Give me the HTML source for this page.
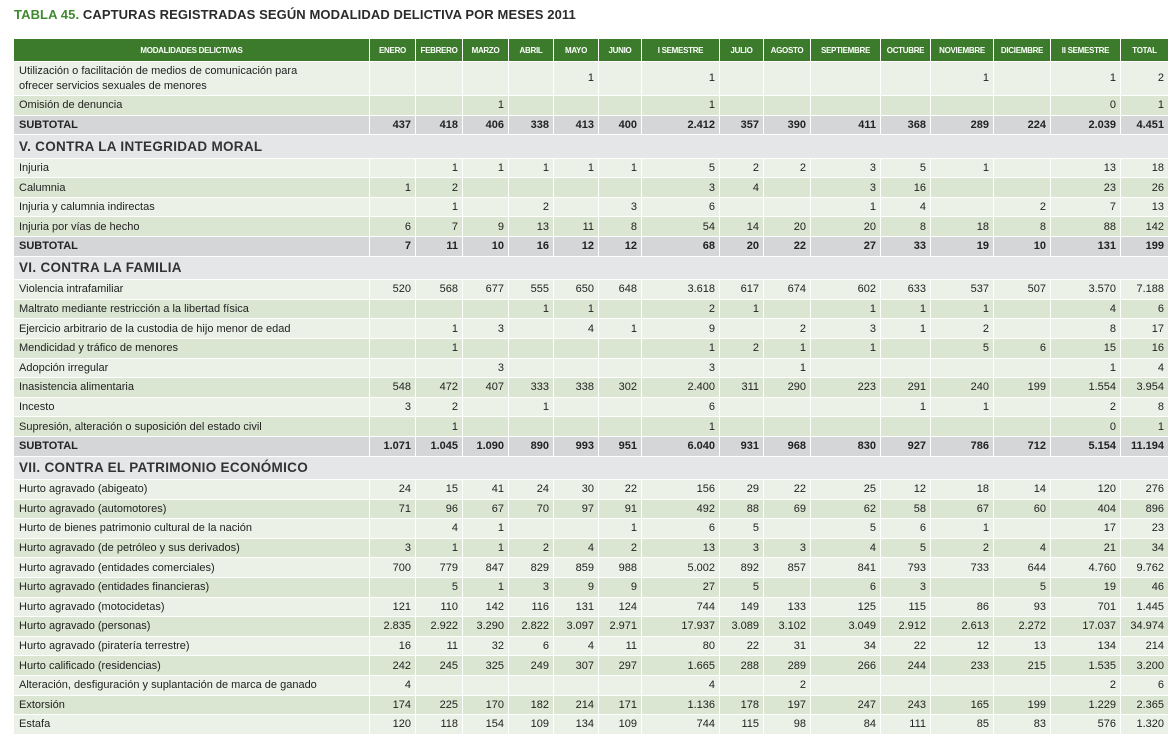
<!DOCTYPE html>
<html><head><meta charset="utf-8">
<style>
body{margin:0;background:#fff;width:1175px;height:742px;overflow:hidden;font-family:"Liberation Sans",sans-serif;}
.title{position:absolute;left:14px;top:7px;font-size:13px;font-weight:bold;letter-spacing:0.1px;color:#2b2b2b;white-space:nowrap}
.title span{color:#3f8a2f}
table{position:absolute;left:13px;top:38px;width:1155px;border-collapse:collapse;table-layout:fixed;font-size:11px;color:#222}
td,th{border:1px solid #fff;padding:0 4px;white-space:nowrap;overflow:hidden;text-align:right}
th{background:#3b7b2b;color:#fff;font-size:8px;font-weight:bold;text-align:center;height:22px;padding:0;letter-spacing:-0.3px}
td:first-child{text-align:left;padding-left:5px}
tr{height:19.6px}
tr.a td{background:#ebf1e6}
tr.b td{background:#dae5d2}
tr.s td{background:#d5d6d8;font-weight:bold}
tr.h{height:23.5px}
tr.h td{background:#e5e6e8;font-size:13.5px;font-weight:bold;color:#333;letter-spacing:0.3px}
tr.r1{height:34px}
tr.r1 td{line-height:15px}
</style></head><body>
<div class="title"><span>TABLA 45.</span> CAPTURAS REGISTRADAS SEGÚN MODALIDAD DELICTIVA POR MESES 2011</div>
<table>
<colgroup><col style="width:356px"><col style="width:46px"><col style="width:47px"><col style="width:46px"><col style="width:45px"><col style="width:45px"><col style="width:43px"><col style="width:78px"><col style="width:44px"><col style="width:47px"><col style="width:70px"><col style="width:50px"><col style="width:63px"><col style="width:57px"><col style="width:70px"><col style="width:48px"></colgroup>
<tr><th>MODALIDADES DELICTIVAS</th><th>ENERO</th><th>FEBRERO</th><th>MARZO</th><th>ABRIL</th><th>MAYO</th><th>JUNIO</th><th>I SEMESTRE</th><th>JULIO</th><th>AGOSTO</th><th>SEPTIEMBRE</th><th>OCTUBRE</th><th>NOVIEMBRE</th><th>DICIEMBRE</th><th>II SEMESTRE</th><th>TOTAL</th></tr>
<tr class="a r1"><td>Utilización o facilitación de medios de comunicación para<br>ofrecer servicios sexuales de menores</td><td></td><td></td><td></td><td></td><td>1</td><td></td><td>1</td><td></td><td></td><td></td><td></td><td>1</td><td></td><td>1</td><td>2</td></tr>
<tr class="b"><td>Omisión de denuncia</td><td></td><td></td><td>1</td><td></td><td></td><td></td><td>1</td><td></td><td></td><td></td><td></td><td></td><td></td><td>0</td><td>1</td></tr>
<tr class="s"><td>SUBTOTAL</td><td>437</td><td>418</td><td>406</td><td>338</td><td>413</td><td>400</td><td>2.412</td><td>357</td><td>390</td><td>411</td><td>368</td><td>289</td><td>224</td><td>2.039</td><td>4.451</td></tr>
<tr class="h"><td colspan="16">V. CONTRA LA INTEGRIDAD MORAL</td></tr>
<tr class="a"><td>Injuria</td><td></td><td>1</td><td>1</td><td>1</td><td>1</td><td>1</td><td>5</td><td>2</td><td>2</td><td>3</td><td>5</td><td>1</td><td></td><td>13</td><td>18</td></tr>
<tr class="b"><td>Calumnia</td><td>1</td><td>2</td><td></td><td></td><td></td><td></td><td>3</td><td>4</td><td></td><td>3</td><td>16</td><td></td><td></td><td>23</td><td>26</td></tr>
<tr class="a"><td>Injuria y calumnia indirectas</td><td></td><td>1</td><td></td><td>2</td><td></td><td>3</td><td>6</td><td></td><td></td><td>1</td><td>4</td><td></td><td>2</td><td>7</td><td>13</td></tr>
<tr class="b"><td>Injuria por vías de hecho</td><td>6</td><td>7</td><td>9</td><td>13</td><td>11</td><td>8</td><td>54</td><td>14</td><td>20</td><td>20</td><td>8</td><td>18</td><td>8</td><td>88</td><td>142</td></tr>
<tr class="s"><td>SUBTOTAL</td><td>7</td><td>11</td><td>10</td><td>16</td><td>12</td><td>12</td><td>68</td><td>20</td><td>22</td><td>27</td><td>33</td><td>19</td><td>10</td><td>131</td><td>199</td></tr>
<tr class="h"><td colspan="16">VI. CONTRA LA FAMILIA</td></tr>
<tr class="a"><td>Violencia intrafamiliar</td><td>520</td><td>568</td><td>677</td><td>555</td><td>650</td><td>648</td><td>3.618</td><td>617</td><td>674</td><td>602</td><td>633</td><td>537</td><td>507</td><td>3.570</td><td>7.188</td></tr>
<tr class="b"><td>Maltrato mediante restricción a la libertad física</td><td></td><td></td><td></td><td>1</td><td>1</td><td></td><td>2</td><td>1</td><td></td><td>1</td><td>1</td><td>1</td><td></td><td>4</td><td>6</td></tr>
<tr class="a"><td>Ejercicio arbitrario de la custodia de hijo menor de edad</td><td></td><td>1</td><td>3</td><td></td><td>4</td><td>1</td><td>9</td><td></td><td>2</td><td>3</td><td>1</td><td>2</td><td></td><td>8</td><td>17</td></tr>
<tr class="b"><td>Mendicidad y tráfico de menores</td><td></td><td>1</td><td></td><td></td><td></td><td></td><td>1</td><td>2</td><td>1</td><td>1</td><td></td><td>5</td><td>6</td><td>15</td><td>16</td></tr>
<tr class="a"><td>Adopción irregular</td><td></td><td></td><td>3</td><td></td><td></td><td></td><td>3</td><td></td><td>1</td><td></td><td></td><td></td><td></td><td>1</td><td>4</td></tr>
<tr class="b"><td>Inasistencia alimentaria</td><td>548</td><td>472</td><td>407</td><td>333</td><td>338</td><td>302</td><td>2.400</td><td>311</td><td>290</td><td>223</td><td>291</td><td>240</td><td>199</td><td>1.554</td><td>3.954</td></tr>
<tr class="a"><td>Incesto</td><td>3</td><td>2</td><td></td><td>1</td><td></td><td></td><td>6</td><td></td><td></td><td></td><td>1</td><td>1</td><td></td><td>2</td><td>8</td></tr>
<tr class="b"><td>Supresión, alteración o suposición del estado civil</td><td></td><td>1</td><td></td><td></td><td></td><td></td><td>1</td><td></td><td></td><td></td><td></td><td></td><td></td><td>0</td><td>1</td></tr>
<tr class="s"><td>SUBTOTAL</td><td>1.071</td><td>1.045</td><td>1.090</td><td>890</td><td>993</td><td>951</td><td>6.040</td><td>931</td><td>968</td><td>830</td><td>927</td><td>786</td><td>712</td><td>5.154</td><td>11.194</td></tr>
<tr class="h"><td colspan="16">VII. CONTRA EL PATRIMONIO ECONÓMICO</td></tr>
<tr class="a"><td>Hurto agravado (abigeato)</td><td>24</td><td>15</td><td>41</td><td>24</td><td>30</td><td>22</td><td>156</td><td>29</td><td>22</td><td>25</td><td>12</td><td>18</td><td>14</td><td>120</td><td>276</td></tr>
<tr class="b"><td>Hurto agravado (automotores)</td><td>71</td><td>96</td><td>67</td><td>70</td><td>97</td><td>91</td><td>492</td><td>88</td><td>69</td><td>62</td><td>58</td><td>67</td><td>60</td><td>404</td><td>896</td></tr>
<tr class="a"><td>Hurto de bienes patrimonio cultural de la nación</td><td></td><td>4</td><td>1</td><td></td><td></td><td>1</td><td>6</td><td>5</td><td></td><td>5</td><td>6</td><td>1</td><td></td><td>17</td><td>23</td></tr>
<tr class="b"><td>Hurto agravado (de petróleo y sus derivados)</td><td>3</td><td>1</td><td>1</td><td>2</td><td>4</td><td>2</td><td>13</td><td>3</td><td>3</td><td>4</td><td>5</td><td>2</td><td>4</td><td>21</td><td>34</td></tr>
<tr class="a"><td>Hurto agravado (entidades comerciales)</td><td>700</td><td>779</td><td>847</td><td>829</td><td>859</td><td>988</td><td>5.002</td><td>892</td><td>857</td><td>841</td><td>793</td><td>733</td><td>644</td><td>4.760</td><td>9.762</td></tr>
<tr class="b"><td>Hurto agravado (entidades financieras)</td><td></td><td>5</td><td>1</td><td>3</td><td>9</td><td>9</td><td>27</td><td>5</td><td></td><td>6</td><td>3</td><td></td><td>5</td><td>19</td><td>46</td></tr>
<tr class="a"><td>Hurto agravado (motocidetas)</td><td>121</td><td>110</td><td>142</td><td>116</td><td>131</td><td>124</td><td>744</td><td>149</td><td>133</td><td>125</td><td>115</td><td>86</td><td>93</td><td>701</td><td>1.445</td></tr>
<tr class="b"><td>Hurto agravado (personas)</td><td>2.835</td><td>2.922</td><td>3.290</td><td>2.822</td><td>3.097</td><td>2.971</td><td>17.937</td><td>3.089</td><td>3.102</td><td>3.049</td><td>2.912</td><td>2.613</td><td>2.272</td><td>17.037</td><td>34.974</td></tr>
<tr class="a"><td>Hurto agravado (piratería terrestre)</td><td>16</td><td>11</td><td>32</td><td>6</td><td>4</td><td>11</td><td>80</td><td>22</td><td>31</td><td>34</td><td>22</td><td>12</td><td>13</td><td>134</td><td>214</td></tr>
<tr class="b"><td>Hurto calificado (residencias)</td><td>242</td><td>245</td><td>325</td><td>249</td><td>307</td><td>297</td><td>1.665</td><td>288</td><td>289</td><td>266</td><td>244</td><td>233</td><td>215</td><td>1.535</td><td>3.200</td></tr>
<tr class="a"><td>Alteración, desfiguración y suplantación de marca de ganado</td><td>4</td><td></td><td></td><td></td><td></td><td></td><td>4</td><td></td><td>2</td><td></td><td></td><td></td><td></td><td>2</td><td>6</td></tr>
<tr class="b"><td>Extorsión</td><td>174</td><td>225</td><td>170</td><td>182</td><td>214</td><td>171</td><td>1.136</td><td>178</td><td>197</td><td>247</td><td>243</td><td>165</td><td>199</td><td>1.229</td><td>2.365</td></tr>
<tr class="a"><td>Estafa</td><td>120</td><td>118</td><td>154</td><td>109</td><td>134</td><td>109</td><td>744</td><td>115</td><td>98</td><td>84</td><td>111</td><td>85</td><td>83</td><td>576</td><td>1.320</td></tr>
</table>
</body></html>
